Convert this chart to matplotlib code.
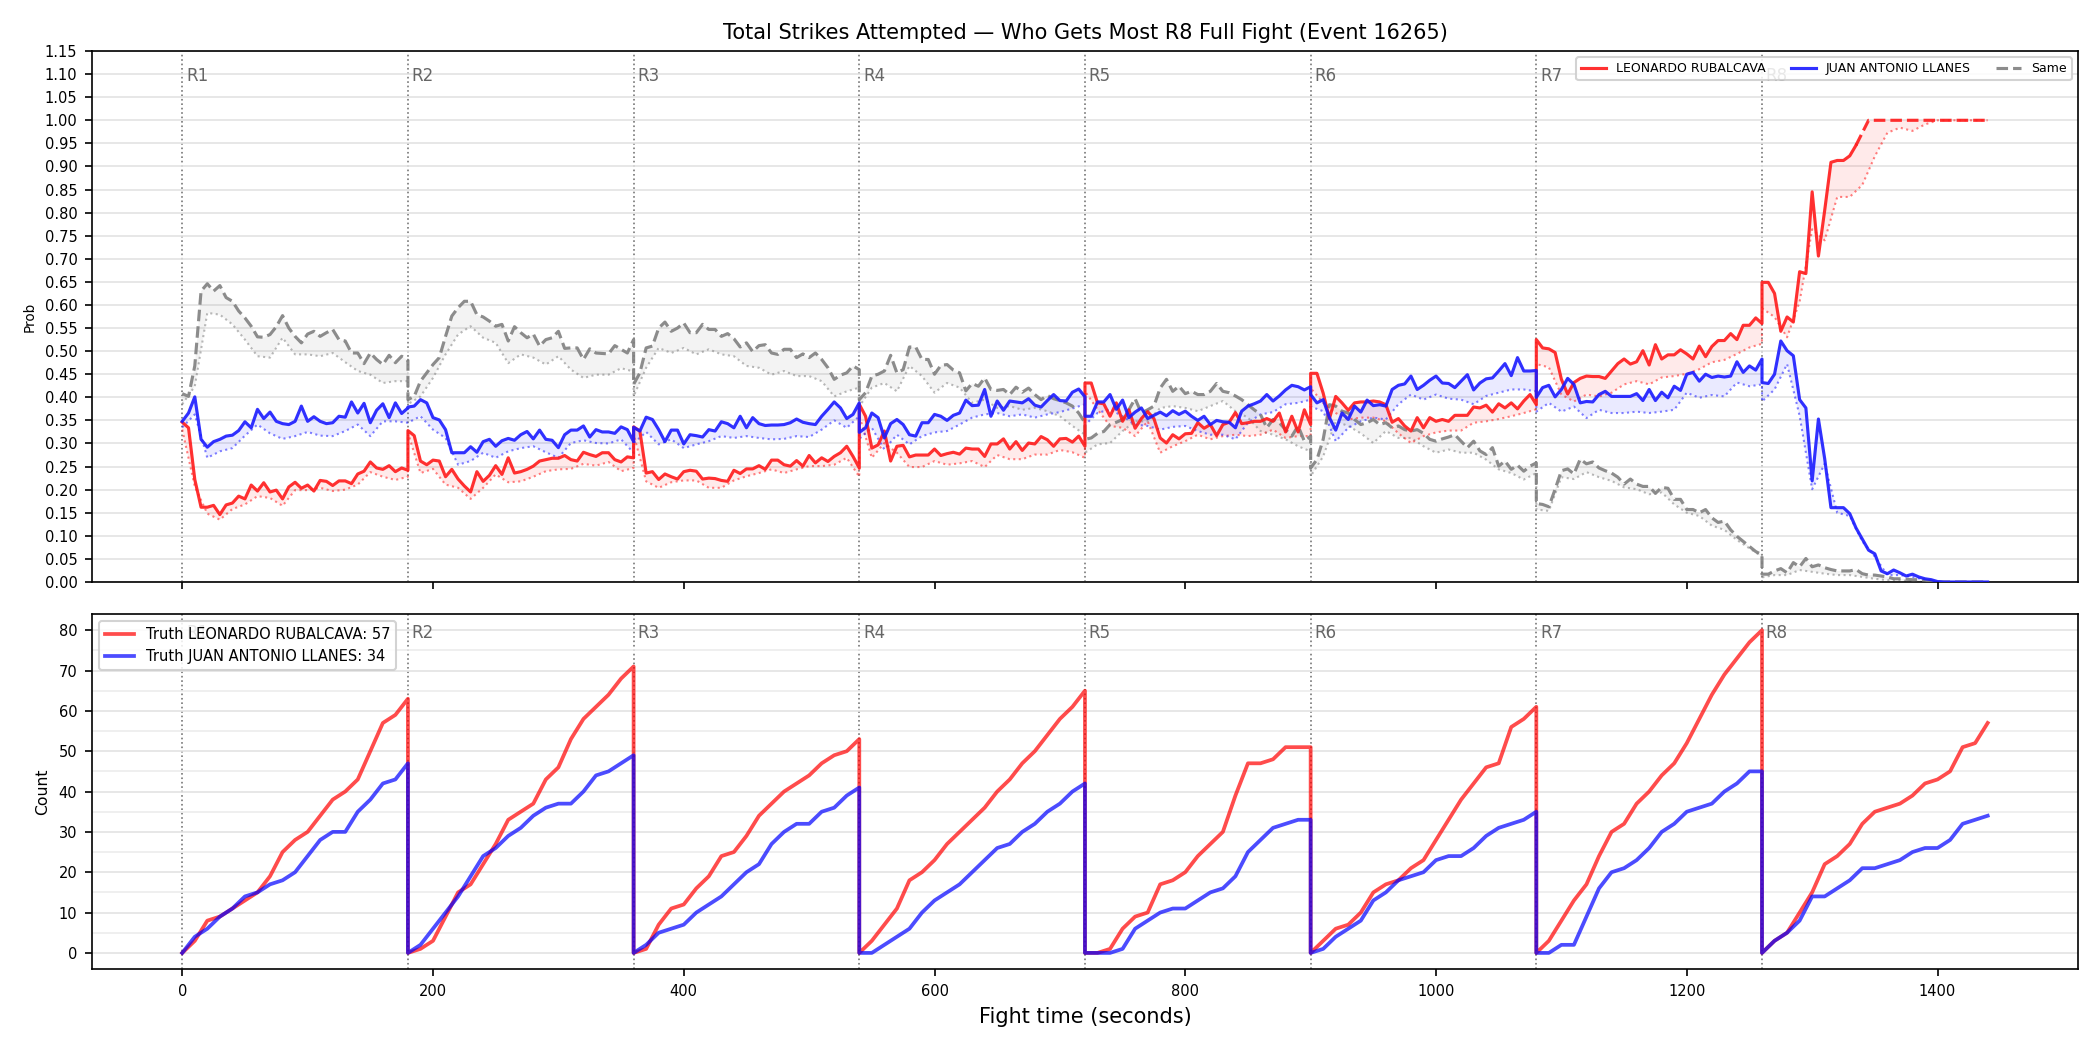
import numpy as np
import matplotlib
matplotlib.use("Agg")
import matplotlib.pyplot as plt
from matplotlib.ticker import MultipleLocator, FormatStrFormatter

# ---------------- data ----------------
TITLE = "Total Strikes Attempted \u2014 Who Gets Most R8 Full Fight (Event 16265)"
fighter_a = "LEONARDO RUBALCAVA"
fighter_b = "JUAN ANTONIO LLANES"
same_label = "Same"
round_labels = ["R1", "R2", "R3", "R4", "R5", "R6", "R7", "R8"]
round_len = 180
prob_step = 5      # seconds between probability samples
low_step = 10      # seconds between lower-bound samples
count_step = 10    # seconds between count samples

# probability of fighter A (per round, t = 0..180 s every 5 s)
prob_a = [
    [0.346, 0.334, 0.222, 0.162, 0.162, 0.166, 0.146, 0.167, 0.171, 0.186, 0.180, 0.21, 0.197, 0.215, 0.195, 0.199, 0.18, 0.206, 0.216,
     0.203, 0.21, 0.197, 0.22, 0.218, 0.209, 0.219, 0.219, 0.213, 0.234, 0.24, 0.26, 0.247, 0.244, 0.252, 0.239, 0.247, 0.242],
    [0.328, 0.317, 0.262, 0.254, 0.264, 0.262, 0.228, 0.244, 0.223, 0.208, 0.195, 0.239, 0.218, 0.231, 0.252, 0.233, 0.269, 0.236, 0.239,
     0.244, 0.251, 0.262, 0.265, 0.268, 0.268, 0.274, 0.265, 0.262, 0.281, 0.276, 0.272, 0.28, 0.28, 0.265, 0.26, 0.271, 0.269],
    [0.336, 0.327, 0.236, 0.239, 0.222, 0.234, 0.228, 0.223, 0.239, 0.242, 0.24, 0.223, 0.225, 0.224, 0.22, 0.218, 0.242, 0.235, 0.245,
     0.245, 0.252, 0.244, 0.264, 0.264, 0.254, 0.251, 0.263, 0.251, 0.274, 0.258, 0.269, 0.261, 0.272, 0.28, 0.294, 0.272, 0.247],
    [0.385, 0.359, 0.29, 0.297, 0.327, 0.262, 0.294, 0.296, 0.271, 0.275, 0.275, 0.275, 0.288, 0.274, 0.278, 0.281, 0.277, 0.29, 0.288,
     0.288, 0.272, 0.299, 0.299, 0.31, 0.288, 0.304, 0.285, 0.301, 0.299, 0.315, 0.308, 0.294, 0.31, 0.311, 0.303, 0.316, 0.294],
    [0.431, 0.431, 0.388, 0.386, 0.359, 0.388, 0.348, 0.373, 0.333, 0.354, 0.369, 0.354, 0.312, 0.301, 0.319, 0.31, 0.321, 0.322, 0.345,
     0.333, 0.341, 0.317, 0.341, 0.346, 0.367, 0.343, 0.345, 0.348, 0.348, 0.354, 0.348, 0.366, 0.325, 0.359, 0.325, 0.373, 0.341],
    [0.452, 0.452, 0.409, 0.354, 0.402, 0.388, 0.372, 0.388, 0.39, 0.39, 0.392, 0.39, 0.384, 0.346, 0.354, 0.338, 0.327, 0.356, 0.334,
     0.356, 0.348, 0.352, 0.348, 0.361, 0.361, 0.361, 0.379, 0.377, 0.383, 0.368, 0.386, 0.377, 0.388, 0.375, 0.392, 0.406, 0.384],
    [0.525, 0.507, 0.505, 0.497, 0.439, 0.407, 0.432, 0.441, 0.446, 0.445, 0.445, 0.441, 0.457, 0.473, 0.483, 0.472, 0.477, 0.501, 0.47,
     0.514, 0.483, 0.492, 0.492, 0.503, 0.494, 0.483, 0.511, 0.488, 0.51, 0.523, 0.523, 0.538, 0.525, 0.556, 0.556, 0.572, 0.56],
    [0.649, 0.649, 0.625, 0.543, 0.574, 0.563, 0.672, 0.668, 0.845, 0.706, 0.805, 0.909, 0.913, 0.913, 0.923, 0.946, 0.973, 1.0, 1.0,
     1.0, 1.0, 1.0, 1.0, 1.0, 1.0, 1.0, 1.0, 1.0, 1.0, 1.0, 1.0, 1.0, 1.0, 1.0, 1.0, 1.0, 1.0],
]

prob_b = [
    [0.348, 0.366, 0.401, 0.309, 0.292, 0.304, 0.309, 0.316, 0.318, 0.328, 0.347, 0.334, 0.374, 0.354, 0.368, 0.348, 0.343, 0.341, 0.348,
     0.381, 0.348, 0.358, 0.348, 0.343, 0.345, 0.359, 0.357, 0.39, 0.366, 0.387, 0.345, 0.372, 0.386, 0.356, 0.388, 0.365, 0.377],
    [0.379, 0.381, 0.395, 0.388, 0.356, 0.351, 0.33, 0.28, 0.28, 0.28, 0.293, 0.281, 0.304, 0.309, 0.294, 0.306, 0.311, 0.307, 0.319,
     0.326, 0.31, 0.329, 0.309, 0.307, 0.291, 0.319, 0.329, 0.329, 0.338, 0.314, 0.33, 0.325, 0.325, 0.322, 0.336, 0.33, 0.304],
    [0.335, 0.327, 0.357, 0.352, 0.33, 0.304, 0.329, 0.329, 0.299, 0.319, 0.317, 0.314, 0.33, 0.327, 0.347, 0.343, 0.334, 0.359, 0.334,
     0.356, 0.343, 0.339, 0.34, 0.34, 0.341, 0.345, 0.353, 0.346, 0.343, 0.341, 0.359, 0.374, 0.39, 0.377, 0.354, 0.363, 0.388],
    [0.324, 0.334, 0.366, 0.356, 0.312, 0.343, 0.352, 0.341, 0.319, 0.316, 0.345, 0.345, 0.363, 0.359, 0.35, 0.361, 0.366, 0.394, 0.382,
     0.383, 0.417, 0.359, 0.392, 0.372, 0.392, 0.39, 0.388, 0.397, 0.383, 0.379, 0.393, 0.406, 0.393, 0.392, 0.411, 0.418, 0.401],
    [0.359, 0.359, 0.39, 0.39, 0.406, 0.374, 0.394, 0.356, 0.368, 0.377, 0.354, 0.361, 0.368, 0.36, 0.371, 0.363, 0.37, 0.359, 0.35,
     0.359, 0.341, 0.35, 0.347, 0.346, 0.334, 0.37, 0.381, 0.386, 0.392, 0.406, 0.392, 0.403, 0.416, 0.426, 0.423, 0.416, 0.423],
    [0.406, 0.388, 0.395, 0.356, 0.329, 0.366, 0.352, 0.381, 0.368, 0.394, 0.382, 0.384, 0.381, 0.417, 0.426, 0.429, 0.446, 0.417, 0.426,
     0.437, 0.446, 0.431, 0.43, 0.421, 0.435, 0.449, 0.416, 0.431, 0.44, 0.442, 0.457, 0.473, 0.447, 0.486, 0.457, 0.457, 0.458],
    [0.40, 0.421, 0.426, 0.401, 0.417, 0.441, 0.428, 0.388, 0.391, 0.39, 0.406, 0.413, 0.402, 0.402, 0.402, 0.402, 0.408, 0.393, 0.417,
     0.393, 0.411, 0.399, 0.424, 0.415, 0.45, 0.454, 0.435, 0.45, 0.443, 0.446, 0.444, 0.446, 0.477, 0.454, 0.468, 0.459, 0.483],
    [0.432, 0.43, 0.45, 0.522, 0.501, 0.49, 0.395, 0.377, 0.219, 0.353, 0.267, 0.161, 0.161, 0.161, 0.148, 0.117, 0.093, 0.069, 0.061,
     0.024, 0.018, 0.026, 0.02, 0.013, 0.017, 0.011, 0.007, 0.005, 0.001, 0.0, 0.0, 0.0, 0.0, 0.0, 0.0, 0.0, 0.0],
]

prob_same = [
    [0.408, 0.402, 0.468, 0.63, 0.646, 0.63, 0.642, 0.616, 0.608, 0.587, 0.572, 0.554, 0.531, 0.53, 0.536, 0.553, 0.577, 0.55, 0.532,
     0.518, 0.537, 0.543, 0.532, 0.54, 0.547, 0.525, 0.522, 0.496, 0.496, 0.473, 0.496, 0.482, 0.471, 0.491, 0.475, 0.489, 0.48],
    [0.395, 0.402, 0.435, 0.453, 0.471, 0.486, 0.532, 0.576, 0.594, 0.608, 0.608, 0.579, 0.574, 0.565, 0.554, 0.558, 0.522, 0.553, 0.54,
     0.529, 0.537, 0.511, 0.525, 0.529, 0.543, 0.506, 0.507, 0.507, 0.482, 0.505, 0.496, 0.495, 0.494, 0.512, 0.504, 0.496, 0.525],
    [0.428, 0.453, 0.507, 0.511, 0.55, 0.563, 0.543, 0.55, 0.561, 0.54, 0.54, 0.558, 0.547, 0.547, 0.532, 0.538, 0.527, 0.509, 0.518,
     0.499, 0.512, 0.514, 0.496, 0.493, 0.504, 0.504, 0.486, 0.494, 0.486, 0.496, 0.482, 0.464, 0.439, 0.448, 0.453, 0.468, 0.46],
    [0.395, 0.41, 0.446, 0.45, 0.457, 0.491, 0.453, 0.46, 0.509, 0.509, 0.482, 0.482, 0.45, 0.469, 0.471, 0.459, 0.453, 0.414, 0.43,
     0.424, 0.442, 0.417, 0.415, 0.417, 0.406, 0.422, 0.411, 0.42, 0.406, 0.395, 0.404, 0.397, 0.393, 0.388, 0.381, 0.366, 0.345],
    [0.309, 0.312, 0.322, 0.326, 0.341, 0.346, 0.352, 0.373, 0.397, 0.366, 0.373, 0.381, 0.42, 0.439, 0.413, 0.424, 0.408, 0.413, 0.406,
     0.406, 0.413, 0.43, 0.413, 0.41, 0.403, 0.395, 0.384, 0.373, 0.363, 0.334, 0.352, 0.345, 0.33, 0.316, 0.338, 0.305, 0.316],
    [0.247, 0.265, 0.309, 0.384, 0.381, 0.37, 0.366, 0.352, 0.341, 0.345, 0.352, 0.341, 0.345, 0.334, 0.338, 0.33, 0.327, 0.33, 0.322,
     0.309, 0.305, 0.31, 0.314, 0.319, 0.305, 0.291, 0.305, 0.284, 0.276, 0.291, 0.251, 0.262, 0.244, 0.253, 0.24, 0.251, 0.258],
    [0.17, 0.168, 0.163, 0.201, 0.241, 0.245, 0.234, 0.266, 0.256, 0.26, 0.247, 0.241, 0.236, 0.227, 0.212, 0.223, 0.212, 0.207, 0.207,
     0.192, 0.205, 0.203, 0.179, 0.179, 0.157, 0.157, 0.15, 0.157, 0.139, 0.129, 0.132, 0.113, 0.099, 0.088, 0.077, 0.066, 0.059],
    [0.017, 0.017, 0.024, 0.029, 0.02, 0.042, 0.033, 0.051, 0.033, 0.037, 0.031, 0.027, 0.024, 0.024, 0.024, 0.027, 0.018, 0.015, 0.015,
     0.013, 0.011, 0.007, 0.007, 0.006, 0.005, 0.005, 0.004, 0.002, 0.0, 0.0, 0.0, 0.0, 0.0, 0.0, 0.0, 0.0, 0.0],
]

# lower bounds (per round, t = 0..180 s every 10 s)
low_a = [
    [0.33, 0.207, 0.148, 0.135, 0.158, 0.168, 0.186, 0.182, 0.165, 0.199, 0.199, 0.204, 0.197, 0.2, 0.211, 0.238, 0.228, 0.221, 0.228],
    [0.323, 0.236, 0.245, 0.211, 0.204, 0.18, 0.204, 0.233, 0.216, 0.218, 0.228, 0.24, 0.244, 0.245, 0.256, 0.252, 0.26, 0.24, 0.247],
    [0.32, 0.218, 0.204, 0.216, 0.22, 0.22, 0.204, 0.204, 0.22, 0.229, 0.236, 0.244, 0.236, 0.244, 0.251, 0.251, 0.254, 0.269, 0.228],
    [0.36, 0.269, 0.301, 0.28, 0.249, 0.249, 0.262, 0.254, 0.257, 0.262, 0.249, 0.275, 0.266, 0.266, 0.276, 0.276, 0.286, 0.281, 0.269],
    [0.413, 0.374, 0.338, 0.334, 0.316, 0.348, 0.28, 0.294, 0.305, 0.319, 0.309, 0.316, 0.319, 0.316, 0.319, 0.33, 0.312, 0.316, 0.316],
    [0.42, 0.388, 0.366, 0.352, 0.356, 0.356, 0.348, 0.322, 0.301, 0.316, 0.324, 0.328, 0.328, 0.345, 0.348, 0.353, 0.359, 0.366, 0.374],
    [0.472, 0.465, 0.406, 0.391, 0.406, 0.402, 0.41, 0.428, 0.435, 0.428, 0.443, 0.446, 0.451, 0.461, 0.476, 0.481, 0.494, 0.508, 0.516],
    [0.593, 0.574, 0.53, 0.607, 0.764, 0.74, 0.834, 0.834, 0.86, 0.922, 0.973, 0.984, 0.977, 0.991, 1.0, 1.0, 1.0, 1.0, 1.0],
]
low_b = [
    [0.335, 0.363, 0.269, 0.283, 0.29, 0.317, 0.341, 0.322, 0.31, 0.316, 0.325, 0.317, 0.316, 0.327, 0.341, 0.316, 0.348, 0.348, 0.345],
    [0.345, 0.359, 0.33, 0.312, 0.254, 0.262, 0.28, 0.269, 0.283, 0.29, 0.294, 0.281, 0.269, 0.301, 0.307, 0.301, 0.3, 0.309, 0.28],
    [0.30, 0.325, 0.298, 0.309, 0.29, 0.298, 0.305, 0.316, 0.312, 0.316, 0.312, 0.309, 0.31, 0.316, 0.314, 0.33, 0.35, 0.334, 0.359],
    [0.31, 0.334, 0.287, 0.319, 0.298, 0.316, 0.324, 0.327, 0.341, 0.356, 0.363, 0.366, 0.359, 0.363, 0.356, 0.363, 0.368, 0.376, 0.385],
    [0.34, 0.366, 0.374, 0.359, 0.341, 0.338, 0.33, 0.336, 0.338, 0.327, 0.319, 0.319, 0.309, 0.345, 0.363, 0.368, 0.385, 0.388, 0.395],
    [0.38, 0.37, 0.305, 0.334, 0.348, 0.356, 0.352, 0.385, 0.406, 0.395, 0.406, 0.397, 0.395, 0.385, 0.403, 0.41, 0.417, 0.417, 0.413],
    [0.369, 0.388, 0.369, 0.38, 0.355, 0.373, 0.366, 0.366, 0.369, 0.366, 0.369, 0.373, 0.41, 0.399, 0.405, 0.402, 0.432, 0.424, 0.428],
    [0.391, 0.417, 0.472, 0.36, 0.201, 0.256, 0.15, 0.143, 0.088, 0.055, 0.015, 0.015, 0.011, 0.005, 0.0, 0.0, 0.0, 0.0, 0.0],
]
low_same = [
    [0.385, 0.424, 0.583, 0.579, 0.558, 0.525, 0.489, 0.486, 0.529, 0.493, 0.493, 0.489, 0.496, 0.476, 0.457, 0.449, 0.431, 0.435, 0.435],
    [0.385, 0.402, 0.442, 0.493, 0.536, 0.554, 0.529, 0.518, 0.474, 0.493, 0.486, 0.471, 0.489, 0.46, 0.442, 0.449, 0.449, 0.463, 0.456],
    [0.402, 0.464, 0.507, 0.496, 0.507, 0.493, 0.504, 0.493, 0.489, 0.468, 0.464, 0.449, 0.457, 0.446, 0.446, 0.435, 0.402, 0.413, 0.421],
    [0.38, 0.421, 0.431, 0.413, 0.468, 0.446, 0.41, 0.431, 0.421, 0.388, 0.395, 0.377, 0.381, 0.373, 0.377, 0.37, 0.359, 0.338, 0.319],
    [0.28, 0.298, 0.301, 0.327, 0.348, 0.348, 0.377, 0.381, 0.377, 0.37, 0.381, 0.392, 0.37, 0.356, 0.327, 0.319, 0.309, 0.294, 0.283],
    [0.229, 0.272, 0.348, 0.338, 0.322, 0.301, 0.327, 0.312, 0.312, 0.294, 0.28, 0.287, 0.28, 0.28, 0.265, 0.244, 0.236, 0.222, 0.236],
    [0.157, 0.154, 0.227, 0.223, 0.238, 0.227, 0.219, 0.205, 0.201, 0.19, 0.194, 0.168, 0.15, 0.143, 0.122, 0.113, 0.091, 0.073, 0.055],
    [0.01, 0.015, 0.015, 0.026, 0.022, 0.018, 0.015, 0.015, 0.011, 0.007, 0.004, 0.004, 0.001, 0.0, 0.0, 0.0, 0.0, 0.0, 0.0],
]

# cumulative strikes attempted within each round (t = 0..180 s every 10 s)
count_a = [
    [0, 3, 8, 9, 11, 13, 15, 19, 25, 28, 30, 34, 38, 40, 43, 50, 57, 59, 63],
    [0, 1, 3, 9, 15, 17, 22, 27, 33, 35, 37, 43, 46, 53, 58, 61, 64, 68, 71],
    [0, 1, 7, 11, 12, 16, 19, 24, 25, 29, 34, 37, 40, 42, 44, 47, 49, 50, 53],
    [0, 3, 7, 11, 18, 20, 23, 27, 30, 33, 36, 40, 43, 47, 50, 54, 58, 61, 65],
    [0, 0, 1, 6, 9, 10, 17, 18, 20, 24, 27, 30, 39, 47, 47, 48, 51, 51, 51],
    [0, 3, 6, 7, 10, 15, 17, 18, 21, 23, 28, 33, 38, 42, 46, 47, 56, 58, 61],
    [0, 3, 8, 13, 17, 24, 30, 32, 37, 40, 44, 47, 52, 58, 64, 69, 73, 77, 80],
    [0, 3, 5, 10, 15, 22, 24, 27, 32, 35, 36, 37, 39, 42, 43, 45, 51, 52, 57],
]
count_b = [
    [0, 4, 6, 9, 11, 14, 15, 17, 18, 20, 24, 28, 30, 30, 35, 38, 42, 43, 47],
    [0, 2, 6, 10, 14, 19, 24, 26, 29, 31, 34, 36, 37, 37, 40, 44, 45, 47, 49],
    [0, 2, 5, 6, 7, 10, 12, 14, 17, 20, 22, 27, 30, 32, 32, 35, 36, 39, 41],
    [0, 0, 2, 4, 6, 10, 13, 15, 17, 20, 23, 26, 27, 30, 32, 35, 37, 40, 42],
    [0, 0, 0, 1, 6, 8, 10, 11, 11, 13, 15, 16, 19, 25, 28, 31, 32, 33, 33],
    [0, 1, 4, 6, 8, 13, 15, 18, 19, 20, 23, 24, 24, 26, 29, 31, 32, 33, 35],
    [0, 0, 2, 2, 9, 16, 20, 21, 23, 26, 30, 32, 35, 36, 37, 40, 42, 45, 45],
    [0, 3, 5, 8, 14, 14, 16, 18, 21, 21, 22, 23, 25, 26, 26, 28, 32, 33, 34],
]

# ---------------- helpers ----------------
def stitch(rounds, step):
    t = np.concatenate([i * round_len + np.arange(len(r)) * step for i, r in enumerate(rounds)])
    v = np.concatenate([np.asarray(r, dtype=float) for r in rounds])
    return t, v

round_starts = [i * round_len for i in range(len(round_labels))]

t_p, pa = stitch(prob_a, prob_step)
_, pb = stitch(prob_b, prob_step)
_, ps = stitch(prob_same, prob_step)
t_l, la = stitch(low_a, low_step)
_, lb = stitch(low_b, low_step)
_, ls = stitch(low_same, low_step)
t_c, ca = stitch(count_a, count_step)
_, cb = stitch(count_b, count_step)

RED = "#ff1a1a"
BLUE = "#1a1aff"
GRAY = "#808080"
GRID = "#e3e3e3"

plt.rcParams["font.family"] = ["DejaVu Sans"]
fig = plt.figure(figsize=(14, 7), dpi=150)
ax1 = fig.add_axes([0.0438, 0.4457, 0.9457, 0.5057])
ax2 = fig.add_axes([0.0438, 0.0771, 0.9457, 0.3381], sharex=ax1)

# ---------------- top: probabilities ----------------
def band(ax, main, low, color, alpha_fill):
    xs = np.concatenate([t_p, t_l[::-1]])
    ys = np.concatenate([main, low[::-1]])
    ax.fill(xs, ys, color=color, alpha=alpha_fill, lw=0, zorder=1)
    ax.plot(t_l, low, linestyle=":", color=color, lw=1.0, alpha=0.55, zorder=2)

band(ax1, ps, ls, GRAY, 0.09)
band(ax1, pa, la, RED, 0.09)
band(ax1, pb, lb, BLUE, 0.09)

ax1.plot(t_p, ps, linestyle="--", color=GRAY, lw=1.5, alpha=0.9, zorder=3)
sat = int(np.argmax(pa >= 0.97))
(h_a,) = ax1.plot(t_p[:sat], pa[:sat], "-", color=RED, lw=1.5, alpha=0.9, zorder=4)
ax1.plot(t_p[sat - 1:], pa[sat - 1:], "--", color=RED, lw=1.5, alpha=0.9, zorder=4)
(h_b,) = ax1.plot(t_p, pb, "-", color=BLUE, lw=1.5, alpha=0.9, zorder=5)
h_s = plt.Line2D([], [], linestyle="--", color=GRAY, lw=1.5, alpha=0.9)

ax1.set_ylim(0, 1.15)
ax1.yaxis.set_major_locator(MultipleLocator(0.05))
ax1.yaxis.set_major_formatter(FormatStrFormatter("%.2f"))
ax1.set_ylabel("Prob", fontsize=6.5)
ax1.set_title(TITLE, fontsize=10)
ax1.grid(axis="y", color=GRID, lw=0.8)
ax1.set_axisbelow(True)
ax1.tick_params(labelsize=7)
plt.setp(ax1.get_xticklabels(), visible=False)
ax1.legend([h_a, h_b, h_s], [fighter_a, fighter_b, same_label], loc="upper right",
           ncol=3, fontsize=6, framealpha=0.85)

# ---------------- bottom: counts ----------------
ax2.plot(t_c, ca, "-", color="red", lw=1.8, alpha=0.7, label=f"Truth {fighter_a}: {count_a[-1][-1]}")
ax2.plot(t_c, cb, "-", color="blue", lw=1.8, alpha=0.7, label=f"Truth {fighter_b}: {count_b[-1][-1]}")
ax2.yaxis.set_major_locator(MultipleLocator(10))
ax2.yaxis.set_minor_locator(MultipleLocator(5))
ax2.tick_params(axis="y", which="minor", length=0)
ax2.grid(axis="y", which="major", color=GRID, lw=0.8)
ax2.grid(axis="y", which="minor", color="#ececec", lw=0.8)
ax2.set_axisbelow(True)
ax2.tick_params(labelsize=7)
ax2.set_ylabel("Count", fontsize=7.5)
ax2.set_xlabel("Fight time (seconds)", fontsize=10)
ax2.legend(loc="upper left", fontsize=7, framealpha=0.85)

ax1.set_xlim(-72, 1512)

# round markers
for ax in (ax1, ax2):
    ytop = ax.get_ylim()[1] * 0.97
    for s, lab in zip(round_starts, round_labels):
        ax.axvline(s, color="#555555", linestyle=":", lw=0.8, alpha=0.8, zorder=0.5)
        ax.text(s + 3, ytop, lab, ha="left", va="top", fontsize=8, color="#666666", zorder=0.6)

fig.savefig("out.png", dpi=150)
